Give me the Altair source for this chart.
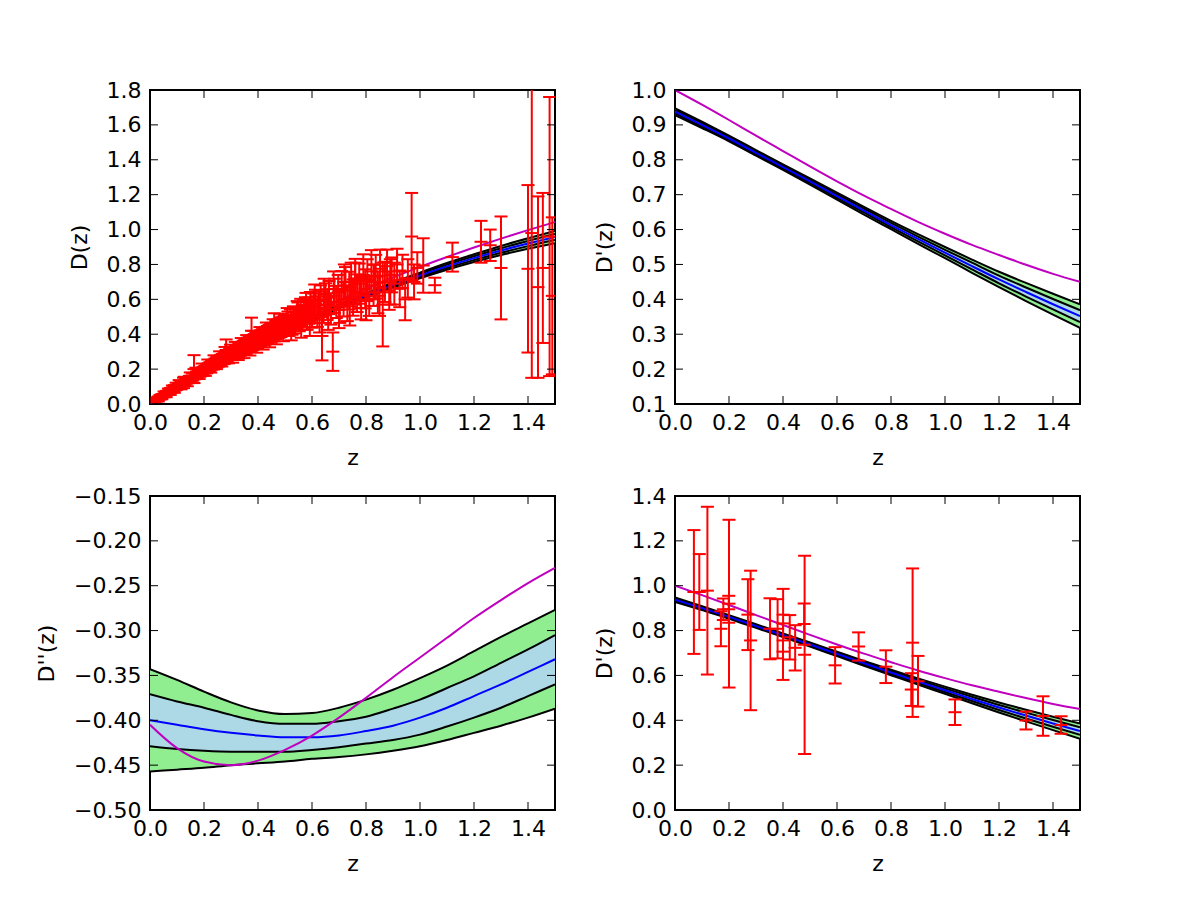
import altair as alt
import pandas as pd

# ---------------------------------------------------------------------------
# Redshift grid for the reconstructed curves
z_grid = [0.0, 0.1, 0.2, 0.3, 0.4, 0.5, 0.6, 0.7, 0.8, 0.9, 1.0, 1.1, 1.2, 1.3, 1.4, 1.5]

# D(z): GP mean, 1-sigma and 2-sigma bounds, flat LCDM (Om = 0.27)
d_mean = [0.000, 0.092, 0.180, 0.264, 0.344, 0.420, 0.492, 0.559, 0.622, 0.682, 0.737, 0.789, 0.836, 0.880, 0.920, 0.957]
d_up1 = [0.001, 0.094, 0.183, 0.267, 0.348, 0.424, 0.497, 0.564, 0.628, 0.689, 0.745, 0.799, 0.847, 0.893, 0.935, 0.975]
d_lo1 = [-0.001, 0.090, 0.178, 0.261, 0.340, 0.416, 0.488, 0.554, 0.616, 0.675, 0.729, 0.780, 0.825, 0.867, 0.905, 0.940]
d_up2 = [0.002, 0.096, 0.185, 0.270, 0.351, 0.428, 0.501, 0.569, 0.634, 0.696, 0.753, 0.808, 0.858, 0.906, 0.950, 0.992]
d_lo2 = [-0.002, 0.088, 0.175, 0.258, 0.337, 0.412, 0.483, 0.549, 0.610, 0.668, 0.721, 0.770, 0.814, 0.854, 0.890, 0.922]
d_lcdm = [0.000, 0.098, 0.192, 0.281, 0.365, 0.446, 0.522, 0.593, 0.661, 0.725, 0.786, 0.843, 0.897, 0.948, 0.997, 1.043]

# D'(z)
dp_mean = [0.938, 0.900, 0.861, 0.820, 0.779, 0.738, 0.696, 0.654, 0.613, 0.573, 0.534, 0.495, 0.457, 0.421, 0.386, 0.352]
dp_up1 = [0.943, 0.905, 0.865, 0.824, 0.783, 0.742, 0.701, 0.660, 0.619, 0.580, 0.542, 0.505, 0.468, 0.434, 0.401, 0.369]
dp_lo1 = [0.933, 0.895, 0.857, 0.816, 0.775, 0.734, 0.691, 0.649, 0.607, 0.566, 0.526, 0.486, 0.446, 0.408, 0.371, 0.335]
dp_up2 = [0.948, 0.909, 0.869, 0.828, 0.787, 0.747, 0.706, 0.665, 0.625, 0.587, 0.550, 0.514, 0.479, 0.447, 0.416, 0.386]
dp_lo2 = [0.928, 0.891, 0.853, 0.812, 0.771, 0.729, 0.686, 0.643, 0.601, 0.559, 0.518, 0.476, 0.435, 0.395, 0.356, 0.318]
dp_lcdm = [1.000, 0.958, 0.914, 0.869, 0.825, 0.781, 0.738, 0.697, 0.659, 0.622, 0.588, 0.556, 0.527, 0.499, 0.473, 0.450]

# D''(z)
dpp_mean = [-0.400, -0.405, -0.410, -0.414, -0.417, -0.419, -0.419, -0.417, -0.412, -0.406, -0.397, -0.386, -0.373, -0.360, -0.346, -0.332]
dpp_up1 = [-0.371, -0.379, -0.386, -0.394, -0.401, -0.404, -0.404, -0.401, -0.396, -0.387, -0.377, -0.364, -0.351, -0.336, -0.321, -0.305]
dpp_lo1 = [-0.429, -0.432, -0.434, -0.435, -0.435, -0.435, -0.433, -0.430, -0.426, -0.422, -0.416, -0.407, -0.397, -0.386, -0.373, -0.360]
dpp_up2 = [-0.343, -0.355, -0.368, -0.380, -0.389, -0.393, -0.392, -0.386, -0.377, -0.366, -0.353, -0.339, -0.323, -0.307, -0.292, -0.277]
dpp_lo2 = [-0.457, -0.455, -0.453, -0.450, -0.448, -0.446, -0.443, -0.441, -0.438, -0.434, -0.429, -0.422, -0.414, -0.406, -0.397, -0.387]
dpp_lcdm = [-0.405, -0.431, -0.446, -0.450, -0.445, -0.433, -0.417, -0.397, -0.375, -0.352, -0.330, -0.308, -0.286, -0.266, -0.247, -0.230]

# Supernova distances with 1-sigma errors
sn_z = [
    0.012, 0.015, 0.016, 0.019, 0.021, 0.023, 0.024, 0.026, 0.028, 0.030, 0.032, 0.034,
    0.036, 0.038, 0.040, 0.043, 0.045, 0.048, 0.050, 0.053, 0.056, 0.058, 0.061, 0.064,
    0.067, 0.070, 0.073, 0.076, 0.079, 0.082, 0.085, 0.088, 0.092, 0.095, 0.099,
    0.105, 0.112, 0.118, 0.124, 0.130, 0.135, 0.141, 0.146, 0.152, 0.158, 0.163, 0.165,
    0.172, 0.178, 0.185, 0.190, 0.196, 0.203, 0.210, 0.216, 0.222, 0.228, 0.235, 0.241,
    0.248, 0.255, 0.262, 0.268, 0.275, 0.281, 0.282, 0.288, 0.295,
    0.302, 0.308, 0.313, 0.318, 0.323, 0.329, 0.334, 0.340, 0.345, 0.351, 0.356, 0.362,
    0.368, 0.373, 0.376, 0.380, 0.386, 0.392, 0.398, 0.404, 0.410, 0.416, 0.422, 0.428,
    0.435, 0.441, 0.447, 0.453, 0.460, 0.466, 0.472, 0.478, 0.485, 0.492, 0.498,
    0.505, 0.511, 0.515, 0.520, 0.526, 0.531, 0.537, 0.542, 0.548, 0.553, 0.558, 0.564,
    0.570, 0.576, 0.582, 0.588, 0.594, 0.600, 0.607, 0.613, 0.620, 0.626, 0.632, 0.637,
    0.643, 0.650, 0.656, 0.663, 0.670, 0.677, 0.683, 0.690, 0.697, 0.703, 0.710, 0.717,
    0.724, 0.731, 0.738, 0.745, 0.752, 0.760, 0.767, 0.775, 0.782, 0.790, 0.797, 0.805,
    0.812, 0.820, 0.828, 0.836, 0.844, 0.852, 0.862, 0.870, 0.878, 0.886, 0.895, 0.905,
    0.915, 0.925, 0.935, 0.945, 0.955, 0.969, 0.978, 0.990, 1.012, 1.055, 1.120, 1.226,
    1.260, 1.300, 1.400, 1.414, 1.437, 1.455, 1.480, 1.490,
    0.025, 0.031, 0.037, 0.044, 0.052, 0.060, 0.068, 0.075, 0.083, 0.090, 0.097,
    0.108, 0.115, 0.127, 0.138, 0.149, 0.160, 0.170, 0.182, 0.193, 0.205, 0.214, 0.225,
    0.237, 0.246, 0.258, 0.266, 0.278, 0.290, 0.298,
    0.306, 0.316, 0.327, 0.338, 0.348, 0.358, 0.370, 0.383, 0.395, 0.407, 0.419, 0.431,
    0.443, 0.456, 0.468, 0.481, 0.494,
    0.508, 0.523, 0.545, 0.560, 0.578, 0.592, 0.610, 0.628, 0.645, 0.660, 0.680, 0.700,
    0.720, 0.740, 0.760, 0.780, 0.800, 0.830, 0.850, 0.890,
]
sn_d = [
    0.0118, 0.0152, 0.0155, 0.0190, 0.0203, 0.0231, 0.0240, 0.0252, 0.0279, 0.0296, 0.0318, 0.0330,
    0.0358, 0.0372, 0.0395, 0.0418, 0.0449, 0.0466, 0.0494, 0.0512, 0.0553, 0.0561, 0.0598, 0.0622,
    0.0660, 0.0681, 0.0718, 0.0736, 0.0775, 0.0796, 0.0836, 0.0851, 0.0899, 0.0925, 0.0968,
    0.103, 0.108, 0.117, 0.121, 0.126, 0.133, 0.136, 0.143, 0.147, 0.155, 0.200, 0.160,
    0.166, 0.174, 0.178, 0.186, 0.189, 0.197, 0.201, 0.210, 0.214, 0.222, 0.226, 0.234,
    0.240, 0.243, 0.252, 0.258, 0.262, 0.272, 0.310, 0.270, 0.285,
    0.283, 0.290, 0.292, 0.300, 0.304, 0.312, 0.313, 0.320, 0.322, 0.330, 0.327, 0.340,
    0.342, 0.350, 0.420, 0.352, 0.358, 0.366, 0.364, 0.375, 0.376, 0.383, 0.388, 0.392,
    0.398, 0.402, 0.410, 0.412, 0.440, 0.424, 0.430, 0.434, 0.440, 0.446, 0.452,
    0.455, 0.470, 0.448, 0.480, 0.462, 0.500, 0.475, 0.492, 0.510, 0.485, 0.528, 0.497,
    0.520, 0.540, 0.505, 0.535, 0.560, 0.515, 0.548, 0.575, 0.530, 0.565, 0.590, 0.390,
    0.550, 0.600, 0.570, 0.610, 0.545, 0.300, 0.620, 0.585, 0.640, 0.560, 0.660, 0.600,
    0.680, 0.575, 0.650, 0.700, 0.610, 0.720, 0.635, 0.690, 0.595, 0.740, 0.660, 0.710,
    0.620, 0.760, 0.680, 0.730, 0.640, 0.775, 0.570, 0.700, 0.790, 0.650, 0.740, 0.690,
    0.800, 0.660, 0.760, 0.600, 0.720, 0.960, 0.700, 0.780, 0.794, 0.681, 0.842, 0.930,
    0.910, 0.780, 0.775, 0.980, 0.670, 0.780, 0.960, 0.620,
    0.026, 0.029, 0.039, 0.042, 0.055, 0.057, 0.071, 0.072, 0.087, 0.086, 0.101,
    0.112, 0.106, 0.132, 0.128, 0.156, 0.150, 0.178, 0.170, 0.201, 0.190, 0.222, 0.210,
    0.245, 0.232, 0.266, 0.248, 0.290, 0.268, 0.300,
    0.275, 0.315, 0.292, 0.335, 0.305, 0.350, 0.322, 0.372, 0.340, 0.392, 0.360, 0.415,
    0.375, 0.432, 0.395, 0.460, 0.415,
    0.490, 0.430, 0.520, 0.455, 0.565, 0.470, 0.600, 0.500, 0.630, 0.520, 0.660, 0.540,
    0.700, 0.560, 0.690, 0.640, 0.600, 0.700, 0.620, 0.700,
]
sn_err = [
    0.002, 0.002, 0.003, 0.003, 0.003, 0.003, 0.004, 0.004, 0.004, 0.004, 0.004, 0.005,
    0.005, 0.005, 0.005, 0.006, 0.006, 0.006, 0.006, 0.007, 0.007, 0.007, 0.008, 0.008,
    0.008, 0.009, 0.009, 0.010, 0.010, 0.010, 0.011, 0.012, 0.012, 0.013, 0.013,
    0.012, 0.015, 0.014, 0.030, 0.015, 0.016, 0.017, 0.018, 0.016, 0.020, 0.080, 0.018,
    0.020, 0.019, 0.022, 0.021, 0.024, 0.022, 0.025, 0.024, 0.026, 0.025, 0.028, 0.027,
    0.030, 0.028, 0.030, 0.029, 0.033, 0.031, 0.060, 0.034, 0.032,
    0.030, 0.034, 0.033, 0.036, 0.035, 0.038, 0.037, 0.036, 0.040, 0.038, 0.041, 0.040,
    0.042, 0.041, 0.075, 0.044, 0.043, 0.045, 0.046, 0.044, 0.047, 0.046, 0.048, 0.050,
    0.049, 0.051, 0.050, 0.053, 0.080, 0.052, 0.055, 0.054, 0.056, 0.055, 0.058,
    0.055, 0.060, 0.058, 0.062, 0.065, 0.060, 0.070, 0.064, 0.072, 0.068, 0.075, 0.070,
    0.078, 0.072, 0.080, 0.075, 0.082, 0.078, 0.085, 0.080, 0.088, 0.082, 0.090, 0.140,
    0.085, 0.092, 0.088, 0.095, 0.090, 0.110, 0.098, 0.092, 0.100, 0.095, 0.102, 0.098,
    0.105, 0.100, 0.108, 0.110, 0.104, 0.112, 0.108, 0.115, 0.110, 0.118, 0.112, 0.120,
    0.115, 0.122, 0.118, 0.125, 0.120, 0.110, 0.240, 0.115, 0.095, 0.110, 0.100, 0.120,
    0.090, 0.105, 0.095, 0.120, 0.110, 0.250, 0.100, 0.090, 0.156, 0.043, 0.083, 0.120,
    0.090, 0.295, 0.480, 0.830, 0.520, 0.430, 0.800, 0.450,
    0.012, 0.014, 0.013, 0.015, 0.016, 0.018, 0.017, 0.020, 0.019, 0.022, 0.021,
    0.025, 0.022, 0.024, 0.026, 0.025, 0.028, 0.030, 0.027, 0.031, 0.029, 0.033, 0.030,
    0.034, 0.032, 0.036, 0.033, 0.037, 0.035, 0.040,
    0.038, 0.041, 0.040, 0.043, 0.042, 0.045, 0.044, 0.047, 0.046, 0.049, 0.048, 0.052,
    0.050, 0.054, 0.053, 0.057, 0.055,
    0.060, 0.065, 0.070, 0.075, 0.072, 0.080, 0.085, 0.090, 0.088, 0.095, 0.100, 0.105,
    0.100, 0.110, 0.120, 0.090, 0.120, 0.100, 0.115, 0.130,
]

# Expansion-rate data expressed as D'(z) with 1-sigma errors
hz_z = [0.07, 0.09, 0.12, 0.17, 0.179, 0.199, 0.20, 0.27, 0.28, 0.352, 0.38, 0.40, 0.4004, 0.425,
        0.445, 0.4783, 0.48, 0.593, 0.68, 0.781, 0.875, 0.88, 0.90, 1.037, 1.30, 1.363, 1.43]
hz_d = [0.972, 0.972, 0.978, 0.808, 0.895, 0.895, 0.920, 0.871, 0.756, 0.808, 0.808, 0.706, 0.871, 0.770,
        0.723, 0.829, 0.692, 0.645, 0.729, 0.639, 0.537, 0.746, 0.574, 0.436, 0.399, 0.419, 0.379]
hz_err = [0.276, 0.169, 0.374, 0.078, 0.048, 0.060, 0.374, 0.158, 0.311, 0.136, 0.132, 0.126, 0.115, 0.099,
          0.101, 0.092, 0.442, 0.081, 0.063, 0.073, 0.073, 0.331, 0.113, 0.057, 0.040, 0.088, 0.039]

x_ticks = [0.0, 0.2, 0.4, 0.6, 0.8, 1.0, 1.2, 1.4]

# ---------------------------------------------------------------------------
W, H = 405, 314
TICK = 8
FONT = "DejaVu Sans"
GREEN, LBLUE, BLUE, MAGENTA, RED = "#90ee90", "#add8e6", "#0000ff", "#bf00bf", "#ff0000"


def curve_frame(mean, up1, lo1, up2, lo2, lcdm):
    return pd.DataFrame({"z": z_grid, "mean": mean, "up1": up1, "lo1": lo1,
                         "up2": up2, "lo2": lo2, "lcdm": lcdm})


def error_frame(zs, vals, errs):
    return pd.DataFrame({"z": zs, "v": vals,
                         "lo": [v - e for v, e in zip(vals, errs)],
                         "hi": [v + e for v, e in zip(vals, errs)]})


def panel(curves, ydomain, yticks, yfmt, ytitle, points=None):
    xs = alt.Scale(domain=[0, 1.5], nice=False, zero=False)
    ys = alt.Scale(domain=ydomain, nice=False, zero=False)
    xaxis = alt.Axis(values=x_ticks, format=".1f", title="z", labelPadding=8, titlePadding=14)
    yaxis = alt.Axis(values=yticks, format=yfmt, title=ytitle, labelPadding=9, titlePadding=15)

    def X(f):
        return alt.X(f, type="quantitative", scale=xs, axis=xaxis)

    def Y(f):
        return alt.Y(f, type="quantitative", scale=ys, axis=yaxis)

    base = alt.Chart(curves)
    layers = [
        base.mark_area(color=GREEN, opacity=1, interpolate="monotone", clip=True)
            .encode(x=X("z"), y=Y("lo2"), y2=alt.Y2("up2")),
        base.mark_area(color=LBLUE, opacity=1, interpolate="monotone", clip=True)
            .encode(x=X("z"), y=Y("lo1"), y2=alt.Y2("up1")),
    ]
    for col in ["up2", "lo2", "up1", "lo1"]:
        layers.append(base.mark_line(color="black", strokeWidth=2, interpolate="monotone", clip=True)
                      .encode(x=X("z"), y=Y(col)))
    layers.append(base.mark_line(color=BLUE, strokeWidth=2, interpolate="monotone", clip=True)
                  .encode(x=X("z"), y=Y("mean")))
    layers.append(base.mark_line(color=MAGENTA, strokeWidth=2, interpolate="monotone", clip=True)
                  .encode(x=X("z"), y=Y("lcdm")))

    if points is not None:
        pts = alt.Chart(points)
        layers.append(pts.mark_rule(color=RED, strokeWidth=2, clip=True)
                      .encode(x=X("z"), y=Y("lo"), y2=alt.Y2("hi")))
        for col in ["lo", "hi", "v"]:
            layers.append(pts.mark_tick(color=RED, orient="horizontal", size=13, thickness=2,
                                        opacity=1, clip=True)
                          .encode(x=X("z"), y=Y(col)))

    # inward ticks on all four sides
    xt = alt.Chart(pd.DataFrame({"z": x_ticks}))
    yt = alt.Chart(pd.DataFrame({"v": yticks}))
    layers += [
        xt.mark_rule(color="black", strokeWidth=1).encode(x=X("z"), y=alt.value(H), y2=alt.value(H - TICK)),
        xt.mark_rule(color="black", strokeWidth=1).encode(x=X("z"), y=alt.value(0), y2=alt.value(TICK)),
        yt.mark_rule(color="black", strokeWidth=1).encode(y=Y("v"), x=alt.value(0), x2=alt.value(TICK)),
        yt.mark_rule(color="black", strokeWidth=1).encode(y=Y("v"), x=alt.value(W), x2=alt.value(W - TICK)),
    ]
    return alt.layer(*layers).properties(width=W, height=H)


p_d = panel(curve_frame(d_mean, d_up1, d_lo1, d_up2, d_lo2, d_lcdm),
            [0, 1.8], [0.0, 0.2, 0.4, 0.6, 0.8, 1.0, 1.2, 1.4, 1.6, 1.8], ".1f", "D(z)",
            error_frame(sn_z, sn_d, sn_err))
p_dp = panel(curve_frame(dp_mean, dp_up1, dp_lo1, dp_up2, dp_lo2, dp_lcdm),
             [0.1, 1.0], [0.1, 0.2, 0.3, 0.4, 0.5, 0.6, 0.7, 0.8, 0.9, 1.0], ".1f", "D'(z)")
p_dpp = panel(curve_frame(dpp_mean, dpp_up1, dpp_lo1, dpp_up2, dpp_lo2, dpp_lcdm),
              [-0.5, -0.15], [-0.5, -0.45, -0.4, -0.35, -0.3, -0.25, -0.2, -0.15], ".2f", "D''(z)")
p_hz = panel(curve_frame(dp_mean, dp_up1, dp_lo1, dp_up2, dp_lo2, dp_lcdm),
             [0, 1.4], [0.0, 0.2, 0.4, 0.6, 0.8, 1.0, 1.2, 1.4], ".1f", "D'(z)",
             error_frame(hz_z, hz_d, hz_err))

chart = (
    alt.concat(p_d, p_dp, p_dpp, p_hz, columns=2,
               spacing=alt.RowColnumber(row=92, column=120), bounds="flush")
    .properties(padding={"left": 34, "top": 78, "right": 20, "bottom": 20}, background="white")
    .configure_axis(labelFont=FONT, titleFont=FONT, labelFontSize=22, titleFontSize=22,
                    titleFontWeight="normal", labelColor="black", titleColor="black",
                    domain=False, ticks=False, grid=False, labelOverlap=False, labelBound=False,
                    labelFlush=False)
    .configure_view(stroke="black", strokeWidth=2)
)

chart.save("out.html", embed_options={"renderer": "svg", "actions": False})
